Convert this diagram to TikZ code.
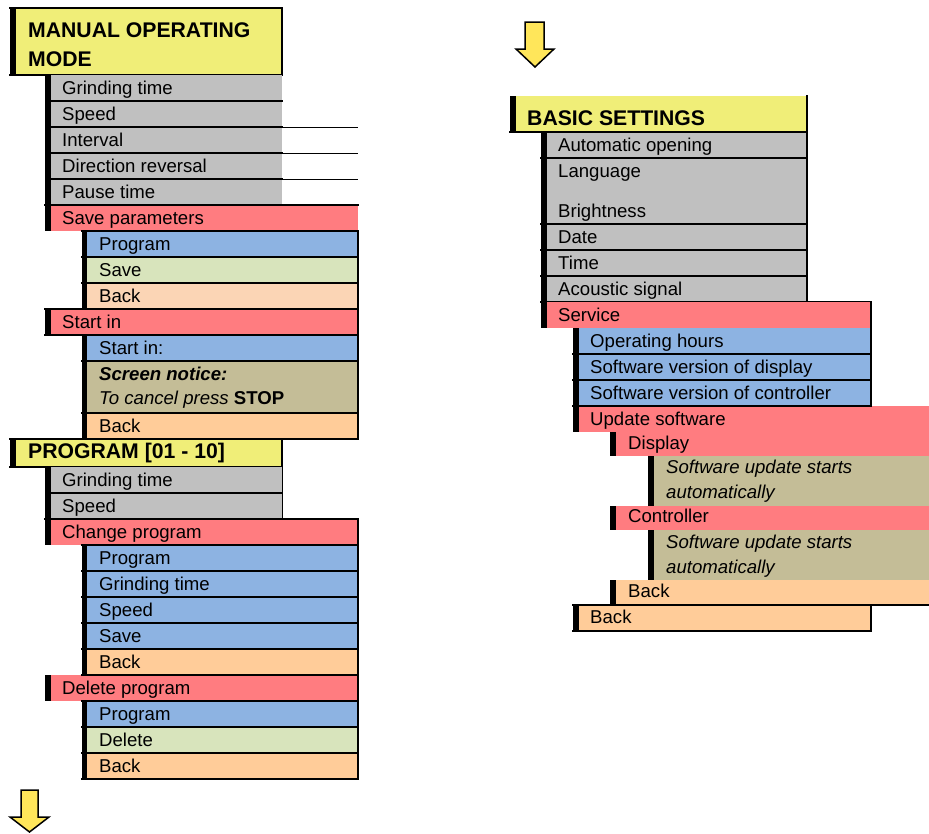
\documentclass[tikz,border=0pt]{standalone}
\usepackage{fontspec}
\setmainfont{Liberation Sans}
\definecolor{cyel}{RGB}{240,238,120}
\definecolor{cgray}{RGB}{192,192,192}
\definecolor{cred}{RGB}{255,124,128}
\definecolor{cblue}{RGB}{141,179,226}
\definecolor{cgreen}{RGB}{216,228,188}
\definecolor{cpeachl}{RGB}{251,213,181}
\definecolor{cpeach}{RGB}{255,204,153}
\definecolor{ctan}{RGB}{196,189,151}
\definecolor{carrow}{RGB}{255,230,90}
\tikzset{
  txt/.style={anchor=base west, inner sep=0pt, font=\fontsize{18.6}{22}\selectfont},
  hdr/.style={anchor=base west, inner sep=0pt, font=\bfseries\fontsize{21.2}{25}\selectfont},
  bl/.style={line width=2pt, line cap=rect},
  thin/.style={line width=1pt},
  arrowshape/.style={fill=carrow, draw=black, line width=1.5pt, line join=miter},
}
\begin{document}
\begin{tikzpicture}[x=1pt,y=-1pt]
\useasboundingbox (0,0) rectangle (929,833);

% ================= LEFT COLUMN =================
% Header 1
\fill[cyel] (16,8) rectangle (282,75);
\fill[black] (10,8) rectangle (16,75);
\draw[bl] (10,8) -- (282,8) -- (282,75);
\draw[bl] (10,75) -- (282,75);
\node[hdr] (h1a) at (28,37) {MANUAL OPERATING};
\node[hdr] (h1b) at (28,66) {MODE};

% gray rows
\fill[cgray] (51,75) rectangle (282,205);
\fill[cred] (51,205) rectangle (358,231);
\fill[black] (45,75) rectangle (51,231);
\foreach \yy in {101,127,153,179} \draw[bl] (51,\yy) -- (282,\yy);
\foreach \yy in {127,153,179} \draw[thin] (282,\yy) -- (358,\yy);
\draw[bl] (45,205) -- (358,205);
\node[txt] (m1) at (62,94) {Grinding time};
\node[txt] (m2) at (62,120) {Speed};
\node[txt] (m3) at (62,146) {Interval};
\node[txt] (m4) at (62,172) {Direction reversal};
\node[txt] (m5) at (62,198) {Pause time};
\node[txt] (m6) at (62,224) {Save parameters};

% sub block 1
\fill[cblue] (87,231) rectangle (358,257);
\fill[cgreen] (87,257) rectangle (358,283);
\fill[cpeachl] (87,283) rectangle (358,309);
\fill[black] (82,231) rectangle (87,309);
\node[txt] (s1) at (99,250) {Program};
\node[txt] (s2) at (99,276) {Save};
\node[txt] (s3) at (99,302) {Back};

% Start in
\fill[cred] (51,309) rectangle (358,335);
\fill[black] (45,309) rectangle (51,335);
\node[txt] (m7) at (62,328) {Start in};

% sub block 2
\fill[cblue] (87,335) rectangle (358,361);
\fill[ctan] (87,361) rectangle (358,413);
\fill[cpeach] (87,413) rectangle (358,439);
\fill[black] (82,335) rectangle (87,439);
\node[txt] (s4) at (99,354) {Start in:};
\node[txt] (s5) at (99,380) {\bfseries\itshape Screen notice:};
\node[txt] (s6) at (99,404) {\itshape To cancel press \upshape\bfseries STOP};
\node[txt] (s7) at (99,432) {Back};

\foreach \yy in {231,257,283,361,413} \draw[bl] (82,\yy) -- (358,\yy);
\foreach \yy in {309,335} \draw[bl] (45,\yy) -- (358,\yy);
\draw[bl] (358,231) -- (358,439);

% Header 2
\fill[cyel] (16,439) rectangle (282,467);
\fill[black] (10,439) rectangle (16,467);
\draw[bl] (10,439) -- (358,439);
\draw[bl] (10,467) -- (282,467);
\draw[bl] (282,439) -- (282,519);
\node[hdr] (h2) at (28,458) {PROGRAM [01 - 10]};

\fill[cgray] (51,467) rectangle (282,519);
\fill[cred] (51,519) rectangle (358,545);
\fill[black] (45,467) rectangle (51,545);
\draw[bl] (51,493) -- (282,493);
\draw[bl] (45,519) -- (358,519);
\node[txt] (p1) at (62,486) {Grinding time};
\node[txt] (p2) at (62,512) {Speed};
\node[txt] (p3) at (62,538) {Change program};

% sub block 3
\fill[cblue] (87,545) rectangle (358,649);
\fill[cpeach] (87,649) rectangle (358,675);
\fill[black] (82,545) rectangle (87,675);
\node[txt] (q1) at (99,564) {Program};
\node[txt] (q2) at (99,590) {Grinding time};
\node[txt] (q3) at (99,616) {Speed};
\node[txt] (q4) at (99,642) {Save};
\node[txt] (q5) at (99,668) {Back};

% Delete program
\fill[cred] (51,675) rectangle (358,701);
\fill[black] (45,675) rectangle (51,701);
\node[txt] (p4) at (62,694) {Delete program};

% sub block 4
\fill[cblue] (87,701) rectangle (358,727);
\fill[cgreen] (87,727) rectangle (358,753);
\fill[cpeach] (87,753) rectangle (358,779);
\fill[black] (82,701) rectangle (87,779);
\node[txt] (r1) at (99,720) {Program};
\node[txt] (r2) at (99,746) {Delete};
\node[txt] (r3) at (99,772) {Back};

\foreach \yy in {545,571,597,623,649,675,701,727,753,779} \draw[bl] (82,\yy) -- (358,\yy);
\draw[bl] (358,519) -- (358,779);

% bottom arrow
\draw[arrowshape] (21,790) -- (38,790) -- (38,817) -- (49,817) -- (29.5,832) -- (10,817) -- (21,817) -- cycle;

% ================= RIGHT COLUMN =================
% top arrow
\draw[arrowshape] (525,22) -- (544,22) -- (544,49) -- (554,49) -- (535,67) -- (516,49) -- (525,49) -- cycle;

% Header 3
\fill[cyel] (516,96) rectangle (807,132);
\fill[black] (510,96) rectangle (516,132);
\node[hdr] (h3) at (527,125) {BASIC SETTINGS};

\fill[cgray] (547,132) rectangle (807,302);
\fill[black] (541,132) rectangle (547,328);
\draw[bl] (510,132) -- (807,132);
\foreach \yy in {158,224,250,276} \draw[bl] (541,\yy) -- (807,\yy);
\draw[bl] (541,302) -- (871,302);
\draw[bl] (807,96) -- (807,302);
\node[txt] (b1) at (558,151) {Automatic opening};
\node[txt] (b2) at (558,177) {Language};
\node[txt] (b3) at (558,217) {Brightness};
\node[txt] (b4) at (558,243) {Date};
\node[txt] (b5) at (558,269) {Time};
\node[txt] (b6) at (558,295) {Acoustic signal};

% Service
\fill[cred] (547,302) rectangle (871,328);
\node[txt] (b7) at (558,321) {Service};
\fill[cblue] (579,328) rectangle (871,406);
\fill[cred] (579,406) rectangle (929,432);
\fill[black] (573,328) rectangle (579,432);
\foreach \yy in {354,380,406} \draw[bl] (573,\yy) -- (871,\yy);
\draw[bl] (871,302) -- (871,406);
\node[txt] (c1) at (590,347) {Operating hours};
\node[txt] (c2) at (590,373) {Software version of display};
\node[txt] (c3) at (590,399) {Software version of controller};
\node[txt] (c4) at (590,425) {Update software};

% Display
\fill[cred] (616,432) rectangle (929,456);
\fill[black] (610,432) rectangle (616,456);
\node[txt] (d1) at (628,449) {Display};
\fill[ctan] (654,456) rectangle (929,506);
\fill[black] (648,456) rectangle (654,506);
\node[txt] (d2) at (666,473) {\itshape Software update starts};
\node[txt] (d3) at (666,498) {\itshape automatically};

% Controller
\fill[cred] (616,506) rectangle (929,530);
\fill[black] (610,506) rectangle (616,530);
\node[txt] (e1) at (628,522) {Controller};
\fill[ctan] (654,530) rectangle (929,580);
\fill[black] (648,530) rectangle (654,580);
\node[txt] (e2) at (666,548) {\itshape Software update starts};
\node[txt] (e3) at (666,573) {\itshape automatically};

% Back (level 3)
\fill[cpeach] (616,580) rectangle (929,605);
\fill[black] (610,580) rectangle (616,605);
\node[txt] (f1) at (628,597) {Back};

% Back (level 2)
\fill[cpeach] (579,605) rectangle (871,631);
\fill[black] (573,605) rectangle (579,631);
\node[txt] (f2) at (590,623) {Back};
\draw[bl] (573,605) -- (929,605);
\draw[bl] (573,631) -- (871,631) -- (871,605);
\end{tikzpicture}
\end{document}
